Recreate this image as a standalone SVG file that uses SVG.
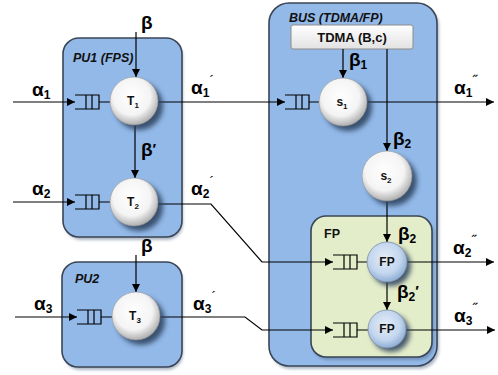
<svg xmlns="http://www.w3.org/2000/svg" width="498" height="375" viewBox="0 0 498 375">
  <defs>
    <radialGradient id="ball" cx="45%" cy="40%" r="60%">
      <stop offset="0" stop-color="#ffffff"/>
      <stop offset="0.65" stop-color="#f4f4f4"/>
      <stop offset="1" stop-color="#b0b0b0"/>
    </radialGradient>
    <radialGradient id="ballBlue" cx="45%" cy="40%" r="60%">
      <stop offset="0" stop-color="#e4edf8"/>
      <stop offset="0.65" stop-color="#c3d6ee"/>
      <stop offset="1" stop-color="#8faed6"/>
    </radialGradient>
    <linearGradient id="tdmaFill" x1="0" y1="0" x2="0" y2="1">
      <stop offset="0" stop-color="#ffffff"/>
      <stop offset="1" stop-color="#e2e2e2"/>
    </linearGradient>
    <filter id="soft" x="-50%" y="-50%" width="200%" height="200%">
      <feGaussianBlur stdDeviation="2.5"/>
    </filter>
    <filter id="boxShadow" x="-10%" y="-10%" width="120%" height="120%">
      <feGaussianBlur stdDeviation="1.5"/>
    </filter>
    <marker id="arrow" viewBox="0 0 10 10" refX="10" refY="5" markerWidth="8" markerHeight="8" markerUnits="userSpaceOnUse" orient="auto">
      <path d="M0 0 L10 5 L0 10 Z" fill="#000"/>
    </marker>
  </defs>
  <style>
    .box { fill: #93b9e8; stroke: #3a4556; stroke-width: 1.6; }
    .fpbox { fill: #e4edc9; stroke: #3a4556; stroke-width: 1.6; }
    .boxshade { fill: #4a607d; opacity: 0.45; filter: url(#boxShadow); }
    .shade { fill: #2a3f5c; opacity: 0.85; filter: url(#soft); }
    .node { fill: url(#ball); stroke: #999; stroke-width: 0.6; }
    .nodefp { fill: url(#ballBlue); stroke: #7f8fa3; stroke-width: 0.8; }
    .queue { fill: none; stroke: #000; stroke-width: 1.2; }
    .wire { fill: none; stroke: #000; stroke-width: 1.2; }
    .arr { marker-end: url(#arrow); }
    .title { font-family: "Liberation Sans", Arial, sans-serif; font-weight: bold; font-style: italic; font-size: 12.5px; fill: #111; }
    .lbl { font-family: "Liberation Sans", Arial, sans-serif; font-weight: bold; font-size: 19px; fill: #000; }
    .nlbl { font-family: "Liberation Sans", Arial, sans-serif; font-weight: bold; font-size: 12px; fill: #111; text-anchor: middle; }
    .sub { font-size: 12px; }
    .mark { font-size: 14px; font-weight: normal; }
  </style>

  <!-- containers -->
  <g id="bus">
    <rect class="boxshade" x="271" y="6" width="168" height="363" rx="20"/>
    <rect class="box" x="269" y="3" width="168" height="363" rx="20"/>
    <text class="title" x="289" y="22">BUS (TDMA/FP)</text>
  </g>
  <g id="pu1">
    <rect class="boxshade" x="65" y="41" width="118" height="199" rx="16"/>
    <rect class="box" x="63" y="38" width="119" height="199" rx="16"/>
    <text class="title" x="73" y="62">PU1 (FPS)</text>
  </g>
  <g id="pu2">
    <rect class="boxshade" x="64" y="265" width="119" height="105" rx="16"/>
    <rect class="box" x="62" y="262" width="120" height="105" rx="16"/>
    <text class="title" x="75" y="283">PU2</text>
  </g>
  <g id="fp">
    <rect class="boxshade" x="313" y="219" width="121" height="141" rx="15"/>
    <rect class="fpbox" x="311" y="216" width="121" height="141" rx="15"/>
    <text class="title" x="324" y="238" style="font-style:normal">FP</text>
  </g>
  <g id="tdma">
    <rect x="291" y="25" width="122" height="24" rx="2" fill="url(#tdmaFill)" stroke="#8c8c8c" stroke-width="1"/>
    <text x="352" y="42" text-anchor="middle" font-family="Liberation Sans, Arial, sans-serif" font-weight="bold" font-size="13" fill="#111">TDMA (B,c)</text>
  </g>

  <!-- connectors -->
  <g id="connectors">
    <path class="wire arr" d="M13 102 H75"/>
    <path class="wire arr" d="M13 202 H75"/>
    <path class="wire arr" d="M15 317 H77"/>
    <path class="wire arr" d="M136 32 V77"/>
    <path class="wire arr" d="M135 125 V178"/>
    <path class="wire arr" d="M136 255 V292"/>
    <path class="wire arr" d="M158 102 H285"/>
    <path class="wire arr" d="M158 204 H211 L262 262 H333"/>
    <path class="wire arr" d="M160 317 H245 L262 330 H333"/>
    <path class="wire arr" d="M343 49 V78"/>
    <path class="wire arr" d="M387 49 V151"/>
    <path class="wire arr" d="M387 201 V242"/>
    <path class="wire arr" d="M387 282 V310"/>
    <path class="wire arr" d="M367 102 H494"/>
    <path class="wire arr" d="M407 262 H494"/>
    <path class="wire arr" d="M406 330 H495"/>
    <!-- queue to server links -->
    <path class="wire" d="M99 102 H110 M99 202 H110 M101 317 H112 M309 102 H319 M357 262 H367 M357 330 H368"/>
  </g>

  <!-- queues -->
  <g id="queues" class="queue">
    <path d="M75 95 H99 V109 H75 M86 95 V109 M92 95 V109"/>
    <path d="M75 195 H99 V209 H75 M86 195 V209 M92 195 V209"/>
    <path d="M77 310 H101 V324 H77 M88 310 V324 M94 310 V324"/>
    <path d="M285 95 H309 V109 H285 M296 95 V109 M302 95 V109"/>
    <path d="M333 255 H357 V269 H333 M344 255 V269 M350 255 V269"/>
    <path d="M333 323 H357 V337 H333 M344 323 V337 M350 323 V337"/>
  </g>

  <!-- servers -->
  <g id="t1">
    <circle class="shade" cx="139" cy="106" r="24"/>
    <circle class="node" cx="134" cy="101" r="24"/>
    <text class="nlbl" x="133" y="105">T<tspan font-size="8" dy="3">1</tspan></text>
  </g>
  <g id="t2">
    <circle class="shade" cx="139" cy="207" r="24"/>
    <circle class="node" cx="134" cy="202" r="24"/>
    <text class="nlbl" x="133" y="206">T<tspan font-size="8" dy="3">2</tspan></text>
  </g>
  <g id="t3">
    <circle class="shade" cx="141" cy="321" r="24"/>
    <circle class="node" cx="136" cy="316" r="24"/>
    <text class="nlbl" x="135" y="320">T<tspan font-size="8" dy="3">3</tspan></text>
  </g>
  <g id="s1">
    <circle class="shade" cx="348" cy="107" r="24"/>
    <circle class="node" cx="343" cy="102" r="24"/>
    <text class="nlbl" x="342" y="106">s<tspan font-size="8" dy="3">1</tspan></text>
  </g>
  <g id="s2">
    <circle class="shade" cx="392" cy="181" r="25"/>
    <circle class="node" cx="387" cy="176" r="25"/>
    <text class="nlbl" x="386" y="180">s<tspan font-size="8" dy="3">2</tspan></text>
  </g>
  <g id="fp1">
    <circle class="shade" cx="391" cy="266" r="20"/>
    <circle class="nodefp" cx="387" cy="262" r="20"/>
    <text class="nlbl" x="387" y="266">FP</text>
  </g>
  <g id="fp2">
    <circle class="shade" cx="391" cy="333" r="19"/>
    <circle class="nodefp" cx="387" cy="329" r="19"/>
    <text class="nlbl" x="387" y="333">FP</text>
  </g>

  <!-- stream and service labels -->
  <g id="labels">
    <text class="lbl" x="32" y="96">α<tspan class="sub" dy="3">1</tspan></text>
    <text class="lbl" x="32" y="195">α<tspan class="sub" dy="3">2</tspan></text>
    <text class="lbl" x="34" y="310">α<tspan class="sub" dy="3">3</tspan></text>
    <text class="lbl" x="191" y="94">α<tspan class="sub" dy="3">1</tspan><tspan class="mark" dy="-11">´</tspan></text>
    <text class="lbl" x="191" y="195">α<tspan class="sub" dy="3">2</tspan><tspan class="mark" dy="-11">´</tspan></text>
    <text class="lbl" x="193" y="310">α<tspan class="sub" dy="3">3</tspan><tspan class="mark" dy="-11">´</tspan></text>
    <text class="lbl" x="454" y="94">α<tspan class="sub" dy="3">1</tspan><tspan class="mark" dy="-11">˝</tspan></text>
    <text class="lbl" x="453" y="254">α<tspan class="sub" dy="3">2</tspan><tspan class="mark" dy="-11">˝</tspan></text>
    <text class="lbl" x="454" y="322">α<tspan class="sub" dy="3">3</tspan><tspan class="mark" dy="-11">˝</tspan></text>
    <text class="lbl" x="141" y="29">β</text>
    <text class="lbl" x="141" y="156">β<tspan font-size="15" dy="-2">′</tspan></text>
    <text class="lbl" x="141" y="252">β</text>
    <text class="lbl" x="349" y="66">β<tspan class="sub" dy="3">1</tspan></text>
    <text class="lbl" x="393" y="145">β<tspan class="sub" dy="3">2</tspan></text>
    <text class="lbl" x="398" y="240">β<tspan class="sub" dy="3">2</tspan></text>
    <text class="lbl" x="397" y="298">β<tspan class="sub" dy="3">2</tspan><tspan font-size="15" dy="-5">′</tspan></text>
  </g>
</svg>
